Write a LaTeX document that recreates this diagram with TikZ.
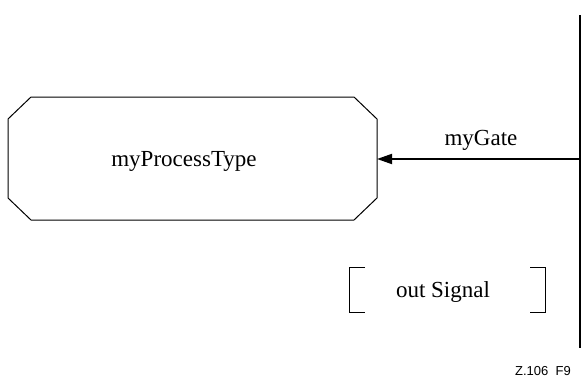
\documentclass[tikz,border=0pt]{standalone}
\usepackage{fontspec}
\setmainfont{Liberation Serif}
\newfontfamily\labelsans{Liberation Sans}
\usetikzlibrary{arrows.meta}
\begin{document}
\begin{tikzpicture}[x=1pt,y=-1pt,
  line/.style={line width=1pt, black},
  lbl/.style={font=\fontsize{23}{27}\selectfont, inner sep=0pt},
  gateline/.style={line width=2pt, black}]
\useasboundingbox (0,0) rectangle (581,380);

% process type symbol (octagon)
\draw[line] (31,97) -- (354,97) -- (377,119) -- (377,198) -- (354,220)
  -- (31,220) -- (8,198) -- (8,119) -- cycle;
\node[lbl, anchor=base] (proc) at (184,166) {myProcessType};
\coordinate (procR) at (377,159);

% frame border line carrying the gate
\coordinate (top) at (580,15);
\coordinate (bot) at (580,348);
\draw[gateline] (top) -- (bot);
\coordinate (gateEnd) at (580,159);

% gate connector
\draw[line width=1.8pt, -{Triangle[length=15pt,width=10pt]}] (gateEnd) -- (procR);
\node[lbl, anchor=base] (gate) at (481,145) {myGate};

% signal list in brackets
\node[lbl, anchor=base] (sig) at (443,297) {out Signal};
\draw[line] (365,267) -- (349,267) -- (349,312) -- (365,312);
\draw[line] (530,267) -- (545,267) -- (545,312) -- (530,312);

% figure tag
\node[font=\labelsans\fontsize{13}{15}\selectfont, inner sep=0pt, anchor=base east] (tag) at (571,375) {Z.106\ \ F9};
\end{tikzpicture}
\end{document}
